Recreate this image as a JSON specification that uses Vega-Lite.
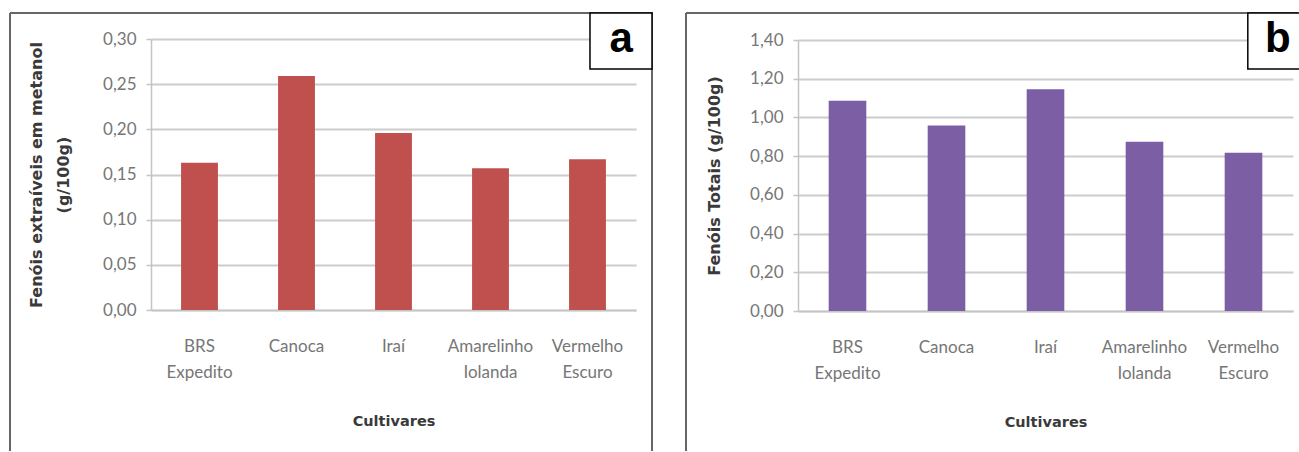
{
  "$schema": "https://vega.github.io/schema/vega-lite/v6.json",
  "background": "white",
  "padding": {"left": 9, "top": 11, "right": 0, "bottom": 0},
  "spacing": 31,
  "datasets": {
    "metanol": [
      {"cultivar": "BRS Expedito", "valor": 0.163},
      {"cultivar": "Canoca", "valor": 0.259},
      {"cultivar": "Iraí", "valor": 0.196},
      {"cultivar": "Amarelinho Iolanda", "valor": 0.157},
      {"cultivar": "Vermelho Escuro", "valor": 0.167}
    ],
    "totais": [
      {"cultivar": "BRS Expedito", "valor": 1.086},
      {"cultivar": "Canoca", "valor": 0.958},
      {"cultivar": "Iraí", "valor": 1.145},
      {"cultivar": "Amarelinho Iolanda", "valor": 0.874},
      {"cultivar": "Vermelho Escuro", "valor": 0.817}
    ],
    "painel": [{"rotulo": "x"}]
  },
  "config": {
    "font": "Lato",
    "axis": {
      "labelFont": "Lato",
      "labelColor": "#767676",
      "labelFontSize": 17,
      "titleFont": "DejaVu Sans",
      "titleFontWeight": "bold",
      "titleColor": "#3a3a3a",
      "titleFontSize": 16,
      "domainColor": "#c4c4c4",
      "domainWidth": 1.5,
      "tickColor": "#c4c4c4",
      "tickWidth": 1.5,
      "gridColor": "#cccccc",
      "gridWidth": 1.8
    }
  },
  "hconcat": [
    {
      "width": 642,
      "height": 438,
      "view": {"stroke": "#666666", "strokeWidth": 2, "strokeDash": [1080, 642, 438, 0]},
      "resolve": {"scale": {"x": "independent", "y": "independent"}},
      "layer": [
        {
          "data": {"name": "metanol"},
          "mark": {"type": "bar", "color": "#C0504D"},
          "encoding": {
            "x": {
              "field": "cultivar", "type": "nominal", "sort": null,
              "scale": {"range": [141, 626], "paddingInner": 0.62, "paddingOuter": 0.31},
              "axis": {
                "title": "Cultivares", "offset": -141, "labelAngle": 0, "ticks": false,
                "labelPadding": 28, "labelLineHeight": 26, "labelBaseline": "top",
                "labelExpr": "split(datum.label, ' ')",
                "titleY": 111, "titleBaseline": "middle", "titleFontSize": 14.5
              }
            },
            "y": {
              "field": "valor", "type": "quantitative",
              "scale": {"domain": [0, 0.3], "range": [297, 26], "nice": false, "zero": true},
              "axis": {
                "title": ["Fenóis extraíveis em metanol", "(g/100g)"],
                "offset": -141, "values": [0, 0.05, 0.1, 0.15, 0.2, 0.25, 0.3],
                "labelExpr": "replace(format(datum.value, '.2f'), '.', ',')",
                "ticks": true, "tickSize": 5,
                "labelPadding": 10, "grid": true,
                "titleX": -107, "titleBaseline": "bottom", "titleLineHeight": 27,
                "titleAngle": -90
              }
            }
          }
        },
        {
          "data": {"name": "painel"},
          "mark": {"type": "rect", "fill": "white", "stroke": "black", "strokeWidth": 1.5},
          "encoding": {
            "x": {"datum": 0.9034, "type": "quantitative", "scale": {"domain": [0, 1]}, "axis": null},
            "x2": {"datum": 1},
            "y": {"datum": 1, "type": "quantitative", "scale": {"domain": [0, 1]}, "axis": null},
            "y2": {"datum": 0.872}
          }
        },
        {
          "data": {"name": "painel"},
          "mark": {"type": "text", "text": "a", "font": "Liberation Sans", "fontWeight": "bold", "fontSize": 42, "color": "black", "baseline": "middle", "align": "center"},
          "encoding": {
            "x": {"datum": 0.952, "type": "quantitative", "scale": {"domain": [0, 1]}, "axis": null},
            "y": {"datum": 0.94, "type": "quantitative", "scale": {"domain": [0, 1]}, "axis": null}
          }
        }
      ]
    },
    {
      "width": 612,
      "height": 438,
      "view": {"stroke": "#666666", "strokeWidth": 2, "strokeDash": [612, 1050, 438, 0]},
      "resolve": {"scale": {"x": "independent", "y": "independent"}},
      "layer": [
        {
          "data": {"name": "totais"},
          "mark": {"type": "bar", "color": "#7B5EA3"},
          "encoding": {
            "x": {
              "field": "cultivar", "type": "nominal", "sort": null,
              "scale": {"range": [112, 607], "paddingInner": 0.62, "paddingOuter": 0.31},
              "axis": {
                "title": "Cultivares", "offset": -140, "labelAngle": 0, "ticks": false,
                "labelPadding": 28, "labelLineHeight": 26, "labelBaseline": "top",
                "labelExpr": "split(datum.label, ' ')",
                "titleY": 111, "titleBaseline": "middle", "titleFontSize": 14.5
              }
            },
            "y": {
              "field": "valor", "type": "quantitative",
              "scale": {"domain": [0, 1.4], "range": [298, 27], "nice": false, "zero": true},
              "axis": {
                "title": "Fenóis Totais (g/100g)",
                "offset": -112, "values": [0, 0.2, 0.4, 0.6, 0.8, 1.0, 1.2, 1.4],
                "labelExpr": "replace(format(datum.value, '.2f'), '.', ',')",
                "ticks": true, "tickSize": 5,
                "labelPadding": 10, "grid": true,
                "titleX": -76, "titleBaseline": "bottom",
                "titleAngle": -90
              }
            }
          }
        },
        {
          "data": {"name": "painel"},
          "mark": {"type": "rect", "fill": "white", "stroke": "black", "strokeWidth": 1.5},
          "encoding": {
            "x": {"datum": 0.918, "type": "quantitative", "scale": {"domain": [0, 1]}, "axis": null},
            "x2": {"datum": 1.01},
            "y": {"datum": 1, "type": "quantitative", "scale": {"domain": [0, 1]}, "axis": null},
            "y2": {"datum": 0.872}
          }
        },
        {
          "data": {"name": "painel"},
          "mark": {"type": "text", "text": "b", "font": "Liberation Sans", "fontWeight": "bold", "fontSize": 42, "color": "black", "baseline": "middle", "align": "center"},
          "encoding": {
            "x": {"datum": 0.967, "type": "quantitative", "scale": {"domain": [0, 1]}, "axis": null},
            "y": {"datum": 0.94, "type": "quantitative", "scale": {"domain": [0, 1]}, "axis": null}
          }
        }
      ]
    }
  ]
}
